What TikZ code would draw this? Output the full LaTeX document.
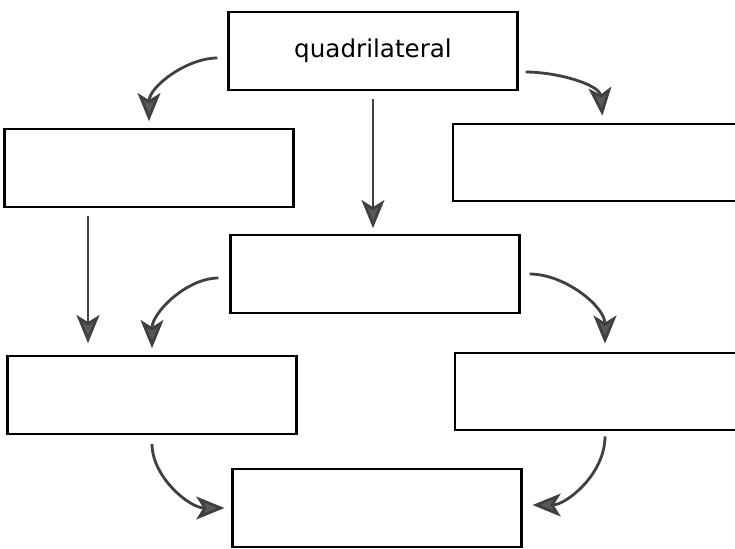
\documentclass[tikz,border=0pt]{standalone}
\usepackage{fontspec}
\setmainfont{DejaVu Sans}
\usetikzlibrary{arrows.meta}

\tikzset{
	blank/.style={draw, line width=1.2pt, inner sep=0pt, minimum width=5.78cm, minimum height=1.55cm},
	link/.style={draw=black!75, line width=1.6pt, arrows={-Stealth[length=16pt, width=13pt, inset=4pt, fill=black!65]}},
}

\begin{document}
\begin{tikzpicture}
		\useasboundingbox (0,0) rectangle (14.7,-10.96);
		\node[blank] (quad) at (7.46,-1.02) {\fontsize{14}{16}\selectfont quadrilateral};
		\node[blank] (lefttop) at (2.98,-3.36) {};
		\node[blank, minimum width=6cm] (righttop) at (12.06,-3.25) {};
		\node[blank] (mid) at (7.5,-5.48) {};
		\node[blank] (leftbot) at (3.04,-7.9) {};
		\node[blank, minimum width=6cm] (rightbot) at (12.1,-7.83) {};
		\node[blank] (bot) at (7.54,-10.16) {};
		\draw[link, shorten <=0.2cm, shorten >=0.14cm] ([yshift=-0.14cm]quad.west) to[out=180, in=90] (lefttop.north);
		\draw[link, shorten <=0.14cm, shorten >=0.14cm] ([yshift=-0.42cm]quad.east) to[out=0, in=95] (righttop.north);
		\draw[link, shorten <=0.16cm, shorten >=0.12cm] (quad.south) -- (quad.south |- mid.north);
		\draw[link, shorten <=0.16cm, shorten >=0.24cm] ([xshift=-1.22cm]lefttop.south) -- ([xshift=-1.22cm]lefttop.south |- leftbot.north);
		\draw[link, shorten <=0.22cm, shorten >=0.14cm] ([yshift=-0.08cm]mid.west) to[out=180, in=90] (leftbot.north);
		\draw[link, shorten <=0.18cm, shorten >=0.16cm] (mid.east) to[out=0, in=90] (rightbot.north);
		\draw[link, shorten <=0.18cm, shorten >=0.14cm] (leftbot.south) to[out=-90, in=180] (bot.west);
		\draw[link, shorten <=0.1cm, shorten >=0.2cm] (rightbot.south) to[out=-90, in=0] ([yshift=0.06cm]bot.east);
	\end{tikzpicture}
\end{document}
